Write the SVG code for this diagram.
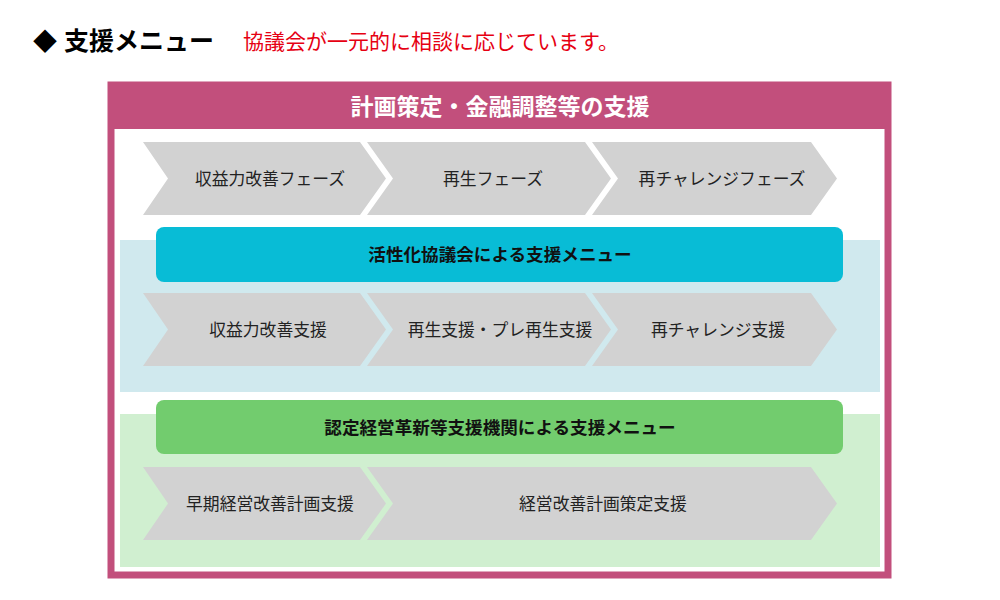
<svg xmlns="http://www.w3.org/2000/svg" width="1000" height="600" viewBox="0 0 1000 600">
<style>
text{font-family:"Noto Sans CJK JP","Noto Sans",sans-serif}
.arr{fill:#d2d2d2}
.at{font-size:16.8px;fill:#222;text-anchor:middle}
.bar{font-size:17.6px;font-weight:bold;fill:#111;text-anchor:middle}
</style>
<rect width="1000" height="600" fill="#fff"/>
<g id="title">
<text x="33" y="50" font-size="24" font-weight="bold" fill="#000">◆</text>
<text x="64" y="50" font-size="25" font-weight="bold" fill="#000">支援メニュー</text>
<text x="243" y="49" font-size="21" fill="#e60012">協議会が一元的に相談に応じています。</text>
</g>
<g id="frame">
<rect x="111" y="85" width="777" height="490" fill="#fff" stroke="#c24f7c" stroke-width="7"/>
<rect x="108" y="82" width="783" height="47" fill="#c24f7c"/>
<text x="500" y="115" font-size="23" font-weight="bold" fill="#fff" text-anchor="middle">計画策定・金融調整等の支援</text>
</g>
<g id="phases">
<polygon class="arr" points="143,142 360,142 386,178.5 360,215 143,215 168,178.5"/>
<text class="at" x="270" y="184.5">収益力改善フェーズ</text>
<polygon class="arr" points="367,142 585,142 611,178.5 585,215 367,215 393,178.5"/>
<text class="at" x="493" y="184.5">再生フェーズ</text>
<polygon class="arr" points="592,142 811,142 837,178.5 811,215 592,215 618,178.5"/>
<text class="at" x="722" y="184.5">再チャレンジフェーズ</text>
</g>
<g id="council">
<rect x="120" y="240" width="760" height="152" fill="#d0e9ee"/>
<rect x="156" y="227" width="687" height="55" rx="8" fill="#08bcd6"/>
<text class="bar" x="500" y="260.5">活性化協議会による支援メニュー</text>
<polygon class="arr" points="143,293 360,293 386,329.5 360,366 143,366 168,329.5"/>
<text class="at" x="268" y="335.5">収益力改善支援</text>
<polygon class="arr" points="367,293 585,293 611,329.5 585,366 367,366 393,329.5"/>
<text class="at" x="500" y="335.5">再生支援・プレ再生支援</text>
<polygon class="arr" points="592,293 811,293 837,329.5 811,366 592,366 618,329.5"/>
<text class="at" x="718" y="335.5">再チャレンジ支援</text>
</g>
<g id="agency">
<rect x="120" y="414" width="760" height="153" fill="#d0efd0"/>
<rect x="156" y="400" width="687" height="54" rx="8" fill="#72cc6e"/>
<text class="bar" x="500" y="433.5">認定経営革新等支援機関による支援メニュー</text>
<polygon class="arr" points="143,467 360,467 386,503.5 360,540 143,540 168,503.5"/>
<text class="at" x="270" y="509.5">早期経営改善計画支援</text>
<polygon class="arr" points="367,467 811,467 837,503.5 811,540 367,540 393,503.5"/>
<text class="at" x="603" y="509.5">経営改善計画策定支援</text>
</g>
<g id="connectors"></g>
</svg>
